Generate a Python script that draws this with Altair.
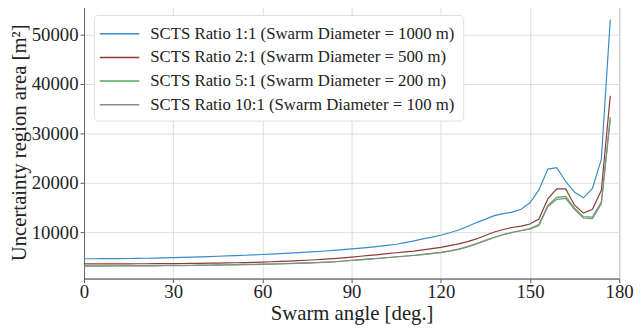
import altair as alt
import pandas as pd

angles = list(range(0, 180, 3))

blue = [4700, 4700, 4710, 4720, 4730, 4750, 4770, 4800, 4830, 4870,
        4920, 4970, 5020, 5080, 5140, 5200, 5270, 5340, 5410, 5480,
        5560, 5640, 5730, 5830, 5930, 6040, 6150, 6270, 6400, 6540,
        6700, 6850, 7010, 7190, 7390, 7620, 7950, 8300, 8700, 9050,
        9450, 9950, 10500, 11200, 12000, 12700, 13400, 13800, 14100, 14700,
        16000, 18600, 22800, 23100, 20300, 18100, 17000, 18900, 24800, 53000]

red = [3650, 3650, 3655, 3660, 3665, 3675, 3685, 3695, 3705, 3715,
       3730, 3745, 3760, 3780, 3800, 3830, 3860, 3890, 3930, 3980,
       4030, 4090, 4160, 4230, 4310, 4400, 4500, 4610, 4740, 4880,
       5040, 5200, 5370, 5540, 5720, 5910, 6080, 6250, 6500, 6750,
       7000, 7350, 7700, 8150, 8700, 9400, 10100, 10600, 11000, 11300,
       11700, 12700, 16800, 18800, 18800, 15500, 13900, 14700, 18500, 37600]

green = [3270, 3270, 3275, 3280, 3285, 3295, 3305, 3315, 3325, 3340,
         3355, 3370, 3390, 3410, 3435, 3460, 3490, 3520, 3550, 3580,
         3600, 3640, 3690, 3740, 3800, 3860, 3930, 4010, 4100, 4240,
         4390, 4520, 4660, 4800, 4950, 5100, 5250, 5400, 5580, 5780,
         6000, 6300, 6650, 7150, 7750, 8400, 9050, 9600, 10050, 10400,
         10800, 11600, 15500, 17100, 17300, 14900, 13200, 13100, 16200, 33300]

gray = [3220, 3220, 3225, 3230, 3235, 3245, 3255, 3265, 3275, 3290,
        3305, 3320, 3340, 3360, 3385, 3410, 3440, 3470, 3500, 3530,
        3560, 3600, 3650, 3700, 3760, 3820, 3890, 3970, 4060, 4190,
        4340, 4470, 4610, 4750, 4900, 5050, 5200, 5350, 5530, 5730,
        5950, 6250, 6600, 7100, 7700, 8350, 9000, 9550, 10000, 10350,
        10650, 11400, 15200, 16700, 16900, 14600, 12900, 12800, 15800, 32800]

series_names = [
    "SCTS Ratio 1:1 (Swarm Diameter = 1000 m)",
    "SCTS Ratio 2:1 (Swarm Diameter = 500 m)",
    "SCTS Ratio 5:1 (Swarm Diameter = 200 m)",
    "SCTS Ratio 10:1 (Swarm Diameter = 100 m)",
]
series_colors = ["#3b8bc9", "#8e3a36", "#4caf50", "#8a8a8a"]

rows = []
for i, (name, vals) in enumerate(zip(series_names, [blue, red, green, gray])):
    for a, v in zip(angles, vals):
        rows.append({"angle": a, "area": v, "series": name, "order": i})
df = pd.DataFrame(rows)

font = "Liberation Serif"

chart = alt.Chart(df).mark_line(strokeWidth=1.2).encode(
    x=alt.X("angle:Q",
            scale=alt.Scale(domain=[0, 180], nice=False, zero=False),
            axis=alt.Axis(title="Swarm angle [deg.]", values=[0, 30, 60, 90, 120, 150, 180],
                          format="d", labelFlush=False,
                          labelFontSize=19, titleFontSize=21, titleFontWeight="normal",
                          labelColor="#222", titleColor="#222",
                          tickSize=4, tickColor="#555", domainColor="#666",
                          gridColor="#dddddd", labelPadding=0, titlePadding=1)),
    y=alt.Y("area:Q",
            scale=alt.Scale(domain=[700, 55700], nice=False, zero=False),
            axis=alt.Axis(title="Uncertainty region area [m²]",
                          values=[10000, 20000, 30000, 40000, 50000], format="d",
                          labelFontSize=19, titleFontSize=21, titleFontWeight="normal",
                          labelColor="#222", titleColor="#222",
                          tickSize=4, tickColor="#555", domainColor="#666",
                          gridColor="#dddddd", labelPadding=2, titlePadding=2)),
    color=alt.Color("series:N",
                    scale=alt.Scale(domain=series_names, range=series_colors),
                    legend=alt.Legend(title=None, orient="none", legendX=10, legendY=9,
                                      symbolType="M-2,0H2", symbolSize=400, symbolStrokeWidth=1.5,
                                      labelFontSize=17, labelColor="#222", labelOffset=20,
                                      fillColor="white", strokeColor="#dddddd",
                                      padding=8, rowPadding=5, cornerRadius=4,
                                      labelLimit=400, symbolOffset=7)),
    order="order:Q",
).properties(
    width=634, height=317,
    padding={"left": 0, "top": -4, "right": 0, "bottom": 0},
    autosize=alt.AutoSizeParams(type="fit", contains="padding"),
).configure(
    font=font
).configure_axis(
    labelFont=font, titleFont=font
).configure_legend(
    labelFont=font
).configure_view(
    stroke="#888888", strokeWidth=1
)

chart.save("out.html", embed_options={"renderer": "svg", "actions": False})
